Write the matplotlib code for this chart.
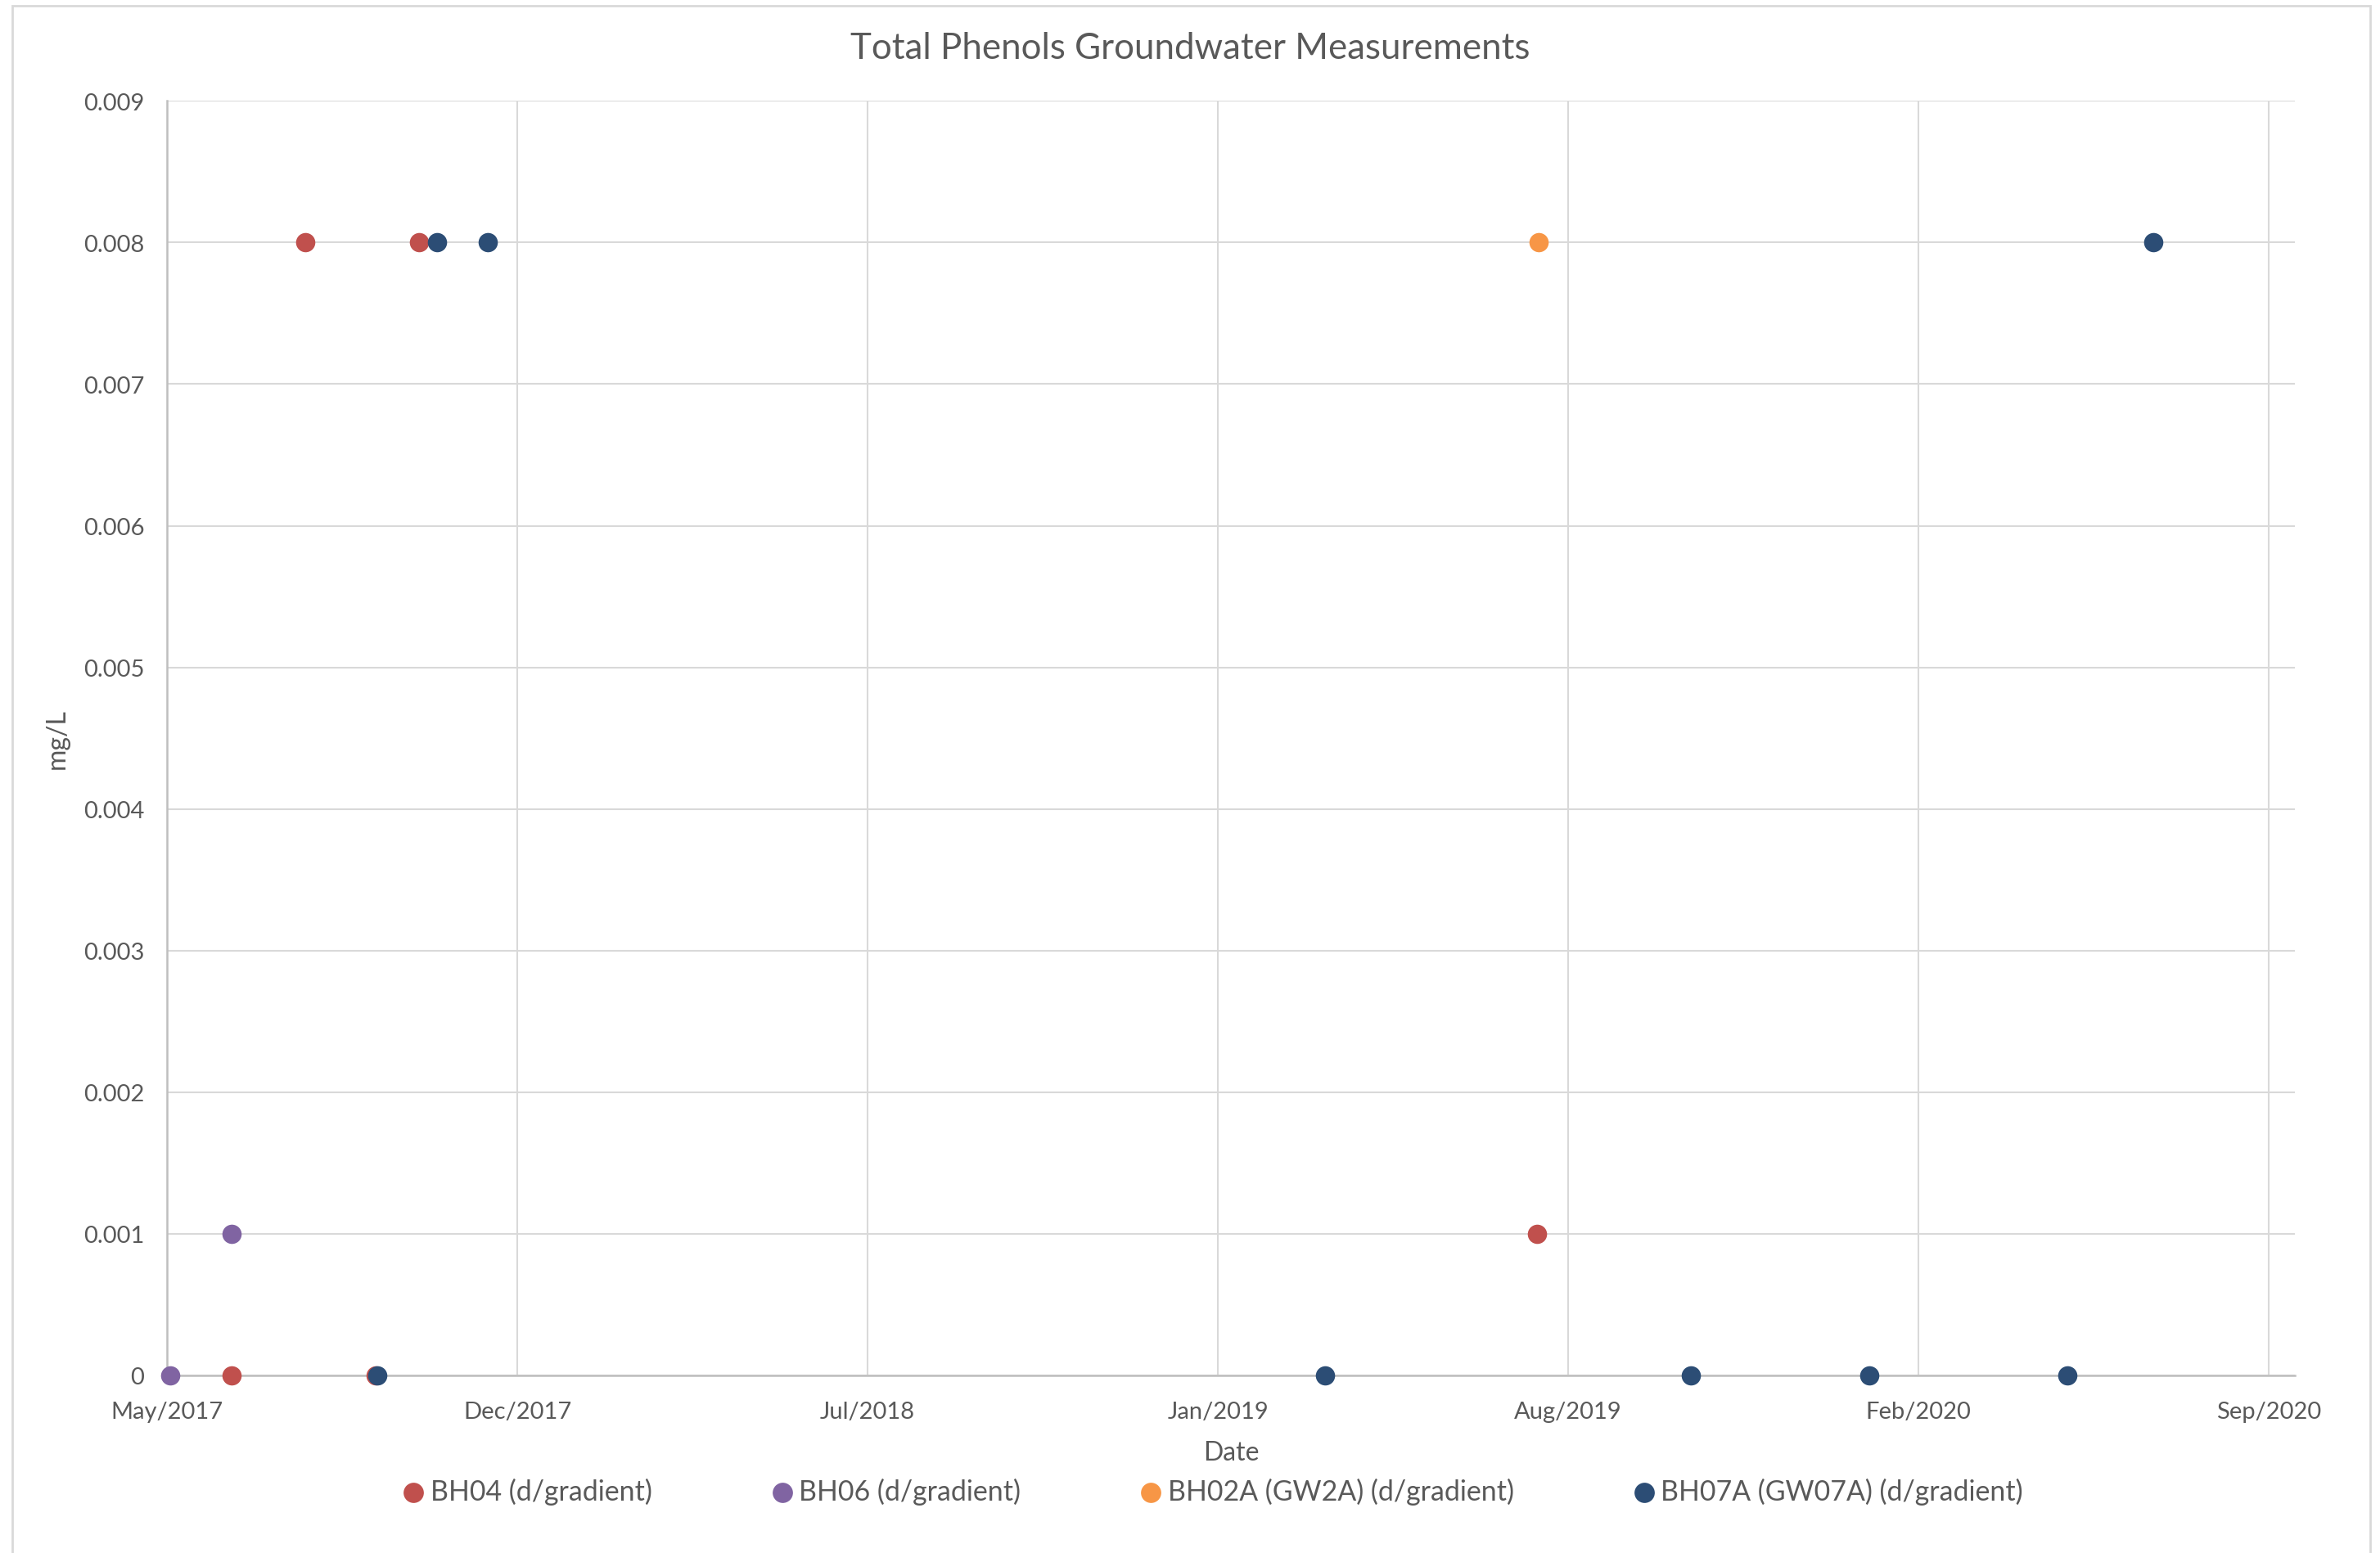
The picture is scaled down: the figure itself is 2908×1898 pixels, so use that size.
import matplotlib
matplotlib.use("Agg")
import matplotlib.pyplot as plt
import matplotlib.dates as mdates
from matplotlib.patches import Rectangle
import numpy as np
import pandas as pd

plt.rcParams['font.family'] = ['Lato', 'DejaVu Sans']

# ---- data ----
bh04_dates = ["2017-07-05", "2017-08-16", "2017-09-25", "2017-10-20", "2019-07-20"]
bh04_vals = [0.0, 0.008, 0.0, 0.008, 0.001]

bh06_dates = ["2017-05-31", "2017-07-05"]
bh06_vals = [0.0, 0.001]

bh02a_dates = ["2019-07-21"]
bh02a_vals = [0.008]

bh07a_dates = ["2017-09-26", "2017-10-30", "2017-11-28", "2019-03-21",
               "2019-10-16", "2020-01-26", "2020-05-18", "2020-07-06"]
bh07a_vals = [0.0, 0.008, 0.008, 0.0, 0.0, 0.0, 0.0, 0.008]

series_names = ["BH04 (d/gradient)", "BH06 (d/gradient)",
                "BH02A (GW2A) (d/gradient)", "BH07A (GW07A) (d/gradient)"]
series_colors = ["#C0504D", "#8064A2", "#F79646", "#2C4D75"]

x_tick_labels = ["May/2017", "Dec/2017", "Jul/2018", "Jan/2019",
                 "Aug/2019", "Feb/2020", "Sep/2020"]
y_ticks = [0, 0.001, 0.002, 0.003, 0.004, 0.005, 0.006, 0.007, 0.008, 0.009]
y_tick_labels = ["0", "0.001", "0.002", "0.003", "0.004", "0.005",
                 "0.006", "0.007", "0.008", "0.009"]

title = "Total Phenols Groundwater Measurements"
xlabel = "Date"
ylabel = "mg/L"

# ---- figure ----
W, H, DPI = 2908, 1899, 200
fig = plt.figure(figsize=(W / DPI, H / DPI), dpi=DPI)
fig.patch.set_facecolor("white")

# chart border
fig.patches.append(Rectangle((15 / W, -0.01), (2896 - 15) / W, 1.01 - 8 / H,
                             transform=fig.transFigure, fill=False,
                             edgecolor="#D9D9D9", linewidth=1.0))

ax = fig.add_axes([204 / W, 217 / H, (2804 - 204) / W, (1682 - 124.3) / H])

text_color = "#595959"
grid_color = "#D9D9D9"

axis_start = pd.Timestamp("2017-05-29")
step_days = 200
tick_dates = [axis_start + pd.Timedelta(days=step_days * i) for i in range(len(x_tick_labels))]
tick_nums = mdates.date2num(tick_dates)
x_min = mdates.date2num(axis_start)
x_max = x_min + 6.074 * step_days

all_dates = [bh04_dates, bh06_dates, bh02a_dates, bh07a_dates]
all_vals = [bh04_vals, bh06_vals, bh02a_vals, bh07a_vals]

for d, v, name, c in zip(all_dates, all_vals, series_names, series_colors):
    ax.scatter(mdates.date2num(pd.to_datetime(d)), v, s=72, color=c,
               label=name, zorder=3, linewidths=0, clip_on=False)

ax.set_xlim(x_min, x_max)
ax.set_ylim(0, 0.009)
ax.set_xticks(tick_nums)
ax.set_xticklabels(x_tick_labels)
ax.set_yticks(y_ticks)
ax.set_yticklabels(y_tick_labels)

ax.grid(True, color=grid_color, linewidth=0.75, zorder=0)
ax.set_axisbelow(True)
for s in ["top", "right"]:
    ax.spines[s].set_visible(False)
ax.spines["left"].set_color("#BFBFBF")
ax.spines["bottom"].set_color("#BFBFBF")
ax.spines["left"].set_linewidth(0.9)
ax.spines["bottom"].set_linewidth(0.9)

ax.tick_params(axis="x", length=0, pad=11, labelsize=10.5, labelcolor=text_color)
ax.tick_params(axis="y", length=0, pad=10, labelsize=10.5, labelcolor=text_color)

ax.set_xlabel(xlabel, fontsize=11.5, color=text_color, labelpad=8)
ax.set_ylabel(ylabel, fontsize=11.5, color=text_color, labelpad=6)

fig.text(0.5, 1 - 60 / H, title, ha="center", va="center",
         fontsize=15.8, color=text_color)

leg = fig.legend(loc="center", bbox_to_anchor=(0.509, 1 - 1823 / H), ncol=4,
                 frameon=False, fontsize=12.2, handletextpad=0.1,
                 columnspacing=4.2, markerscale=1.05, labelcolor=text_color,
                 handlelength=1.0)

fig.savefig("out.png", dpi=DPI, facecolor="white")
